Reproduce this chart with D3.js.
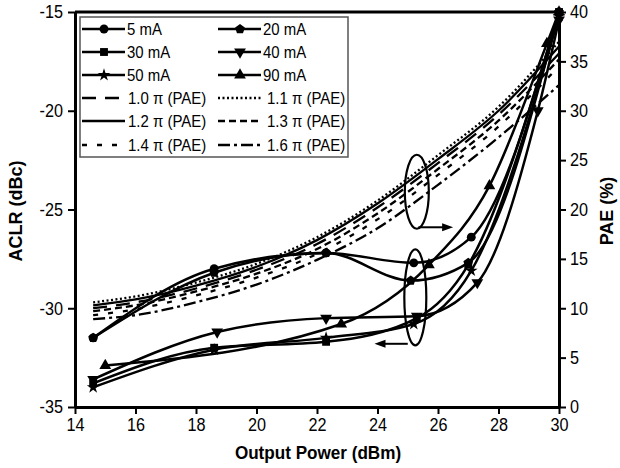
<!DOCTYPE html>
<html>
<head>
<meta charset="utf-8">
<script src="https://cdn.jsdelivr.net/npm/d3@7"></script>
<style>
    body { margin: 0; background: #fff; }
    svg text { font-family: "Liberation Sans", Arial, sans-serif; fill: #000; }
    .title { font-weight: bold; font-size: 18px; }
</style>
</head>
<body>
<div class="graph-goes-here"></div>
<script>
// ACLR (left axis) vs output power, one pair of arrays per bias current
const currentLabels = ["5 mA", "20 mA", "30 mA", "40 mA", "50 mA", "90 mA"];

const pout5mA = [14.6, 18.6, 22.3, 25.2, 27.1, 30.0];
const aclr5mA = [-31.5, -28.0, -27.2, -27.7, -26.4, -15.0];
const pout20mA = [14.6, 18.6, 22.3, 25.1, 27.0, 30.0];
const aclr20mA = [-31.5, -28.2, -27.2, -28.6, -27.7, -15.0];
const pout30mA = [14.6, 18.6, 22.3, 25.3, 27.0, 30.0];
const aclr30mA = [-33.8, -32.0, -31.7, -30.5, -27.8, -15.0];
const pout40mA = [14.6, 18.7, 22.3, 25.3, 27.3, 29.3, 30.0];
const aclr40mA = [-33.6, -31.2, -30.5, -30.4, -28.7, -20.0, -15.4];
const pout50mA = [14.6, 18.6, 22.3, 25.2, 27.1, 30.0];
const aclr50mA = [-34.0, -32.1, -31.5, -30.8, -28.1, -15.2];
const pout90mA = [15.0, 22.8, 25.7, 27.7, 29.6, 30.0];
const aclr90mA = [-32.9, -30.8, -27.8, -23.8, -16.6, -15.0];

// PAE (right axis) vs output power, one array per phase setting
const phaseLabels = ["1.0 \u03c0 (PAE)", "1.1 \u03c0 (PAE)", "1.2 \u03c0 (PAE)", "1.3 \u03c0 (PAE)", "1.4 \u03c0 (PAE)", "1.6 \u03c0 (PAE)"];
const paePout = [14.6, 16, 18, 20, 22, 24, 26, 28, 30];
const pae10 = [10.0, 10.6, 12.0, 13.9, 16.5, 20.2, 24.7, 29.6, 35.8];
const pae11 = [10.6, 11.2, 12.6, 14.5, 17.2, 20.9, 25.5, 30.4, 37.0];
const pae12 = [10.3, 10.9, 12.3, 14.2, 16.9, 20.6, 25.1, 30.0, 36.5];
const pae13 = [9.7, 10.3, 11.7, 13.5, 16.0, 19.6, 24.1, 29.0, 35.2];
const pae14 = [9.3, 9.9, 11.3, 13.1, 15.5, 19.0, 23.5, 28.4, 34.5];
const pae16 = [8.9, 9.3, 10.6, 12.4, 14.9, 18.1, 22.5, 27.3, 32.6];

const xTicks = [14, 16, 18, 20, 22, 24, 26, 28, 30];
const aclrTicks = [-35, -30, -25, -20, -15];
const paeTicks = [0, 5, 10, 15, 20, 25, 30, 35, 40];

// pentagon isn't in d3's symbol set
const symbolPentagon = {
    draw(ctx, size) {
        const r = Math.sqrt(size / 2.378);
        for (let i = 0; i < 5; i++) {
            const a = -Math.PI / 2 + i * 2 * Math.PI / 5;
            if (i == 0) ctx.moveTo(r * Math.cos(a), r * Math.sin(a));
            else ctx.lineTo(r * Math.cos(a), r * Math.sin(a));
        }
        ctx.closePath();
    }
};

const markers = [
    { type: d3.symbolCircle, size: 62, rot: 0 },
    { type: symbolPentagon, size: 62, rot: 0 },
    { type: d3.symbolSquare, size: 62, rot: 0 },
    { type: d3.symbolTriangle, size: 60, rot: 180 },
    { type: d3.symbolStar, size: 50, rot: 0 },
    { type: d3.symbolTriangle, size: 60, rot: 0 }
];
const dashes = ["14,9", "2,2.5", null, "7,4", "5,10", "12,4,3,4"];

var margin = { top: 12, right: 61, bottom: 61, left: 75 },
    width = 620 - margin.left - margin.right,
    height = 468 - margin.top - margin.bottom;

var root = d3.select(".graph-goes-here")
    .append("svg")
    .attr("width", 620)
    .attr("height", 468);

var svg = root.append("g")
    .attr("transform", "translate(" + margin.left + "," + margin.top + ")");

var xScale = d3.scaleLinear().domain([14, 30]).range([0, width]);
var aclrScale = d3.scaleLinear().domain([-35, -15]).range([height, 0]);
var paeScale = d3.scaleLinear().domain([0, 40]).range([height, 0]);

// squeeze text a bit, the original font is a condensed one
function narrow(sel, k) {
    sel.each(function () {
        var w = this.getComputedTextLength();
        d3.select(this).attr("textLength", w * k).attr("lengthAdjust", "spacingAndGlyphs");
    });
}

// PAE curves
var paeSeries = [pae10, pae11, pae12, pae13, pae14, pae16];
var paeLine = d3.line()
    .curve(d3.curveMonotoneX)
    .x((d, i) => xScale(paePout[i]))
    .y(d => paeScale(d));

paeSeries.forEach((s, k) => {
    svg.append("path")
        .datum(s)
        .attr("fill", "none")
        .attr("stroke", "black")
        .attr("stroke-width", 2.3)
        .attr("stroke-dasharray", dashes[k])
        .attr("d", paeLine);
});

// ACLR curves with markers
var aclrSeries = [
    [pout5mA, aclr5mA], [pout20mA, aclr20mA], [pout30mA, aclr30mA],
    [pout40mA, aclr40mA], [pout50mA, aclr50mA], [pout90mA, aclr90mA]
];

aclrSeries.forEach((s, k) => {
    var pts = s[0].map((p, i) => ({ p: p, v: s[1][i] }));
    svg.append("path")
        .datum(pts)
        .attr("fill", "none")
        .attr("stroke", "black")
        .attr("stroke-width", 2.5)
        .attr("d", d3.line()
            .curve(d3.curveMonotoneX)
            .x(d => xScale(d.p))
            .y(d => aclrScale(d.v)));

    svg.selectAll(null)
        .data(pts)
        .enter()
        .append("path")
        .attr("d", d3.symbol().type(markers[k].type).size(markers[k].size))
        .attr("transform", d => "translate(" + xScale(d.p) + "," + aclrScale(d.v) + ") rotate(" + markers[k].rot + ")")
        .attr("fill", "black");
});

// ellipses + arrows pointing to the axis each group belongs to
function arrow(x1, x2, y) {
    var dir = x2 > x1 ? 1 : -1;
    svg.append("line")
        .attr("x1", x1).attr("x2", x2 - dir * 8)
        .attr("y1", y).attr("y2", y)
        .attr("stroke", "black").attr("stroke-width", 2);
    svg.append("path")
        .attr("d", "M" + x2 + "," + y + "L" + (x2 - dir * 11) + "," + (y - 4) + "L" + (x2 - dir * 11) + "," + (y + 4) + "Z")
        .attr("fill", "black");
}

svg.append("ellipse")
    .attr("cx", xScale(25.3)).attr("cy", paeScale(21.8))
    .attr("rx", 12).attr("ry", 37)
    .attr("fill", "none").attr("stroke", "black").attr("stroke-width", 2.2);
arrow(xScale(25.35), xScale(26.5), paeScale(18.2));

svg.append("ellipse")
    .attr("cx", xScale(25.25)).attr("cy", aclrScale(-29.45))
    .attr("rx", 11).attr("ry", 48)
    .attr("fill", "none").attr("stroke", "black").attr("stroke-width", 2.2);
arrow(xScale(25.0), xScale(23.9), aclrScale(-31.8));

// axes
function styleAxis(g) {
    g.select(".domain").attr("stroke-width", 3);
    g.selectAll(".tick line").attr("stroke-width", 2);
    g.selectAll(".tick text").attr("font-size", 18).attr("font-family", null).call(narrow, 0.9);
}

svg.append("g")
    .attr("transform", "translate(0," + height + ")")
    .call(d3.axisBottom(xScale).tickValues(xTicks).tickFormat(d => String(d)).tickSize(7).tickSizeOuter(0).tickPadding(4))
    .call(styleAxis);

svg.append("g")
    .call(d3.axisLeft(aclrScale).tickValues(aclrTicks).tickFormat(d => String(d)).tickSize(7).tickSizeOuter(0).tickPadding(5))
    .call(styleAxis);

svg.append("g")
    .attr("transform", "translate(" + width + ",0)")
    .call(d3.axisRight(paeScale).tickValues(paeTicks).tickFormat(d => String(d)).tickSize(7).tickSizeOuter(0).tickPadding(4))
    .call(styleAxis);

svg.append("line")
    .attr("x1", 0).attr("x2", width)
    .attr("y1", 0).attr("y2", 0)
    .attr("stroke", "black").attr("stroke-width", 3);

// axis titles
root.append("text")
    .attr("class", "title")
    .attr("text-anchor", "middle")
    .attr("x", 318).attr("y", 459)
    .text("Output Power (dBm)")
    .call(narrow, 0.95);

root.append("text")
    .attr("class", "title")
    .attr("text-anchor", "middle")
    .attr("transform", "translate(22,211) rotate(-90)")
    .text("ACLR (dBc)");

root.append("text")
    .attr("class", "title")
    .attr("text-anchor", "middle")
    .attr("transform", "translate(613,211) rotate(-90)")
    .text("PAE (%)");

// legend
var legend = svg.append("g").attr("transform", "translate(5,5)");
legend.append("rect")
    .attr("x", 0).attr("y", 0)
    .attr("width", 268).attr("height", 140)
    .attr("fill", "white")
    .attr("stroke", "#555").attr("stroke-width", 1.5);

var rowY = [12, 35, 58, 81, 104, 128];
var colX = [2, 138];

currentLabels.forEach((lab, k) => {
    var cx = colX[k % 2], cy = rowY[Math.floor(k / 2)];
    legend.append("line")
        .attr("x1", cx).attr("x2", cx + 43)
        .attr("y1", cy).attr("y2", cy)
        .attr("stroke", "black").attr("stroke-width", 2.5);
    legend.append("path")
        .attr("d", d3.symbol().type(markers[k].type).size(markers[k].size))
        .attr("transform", "translate(" + (cx + 22) + "," + cy + ") rotate(" + markers[k].rot + ")")
        .attr("fill", "black");
    legend.append("text")
        .attr("x", cx + 45).attr("y", cy + 6)
        .attr("font-size", 17)
        .text(lab)
        .call(narrow, 0.88);
});

phaseLabels.forEach((lab, k) => {
    var cx = colX[k % 2], cy = rowY[3 + Math.floor(k / 2)];
    legend.append("line")
        .attr("x1", cx).attr("x2", cx + 43)
        .attr("y1", cy).attr("y2", cy)
        .attr("stroke", "black").attr("stroke-width", 2.3)
        .attr("stroke-dasharray", dashes[k]);
    legend.append("text")
        .attr("x", cx + (k % 2 ? 49 : 46)).attr("y", cy + 6)
        .attr("font-size", 17)
        .text(lab)
        .call(narrow, 0.88);
});
</script>
</body>
</html>
